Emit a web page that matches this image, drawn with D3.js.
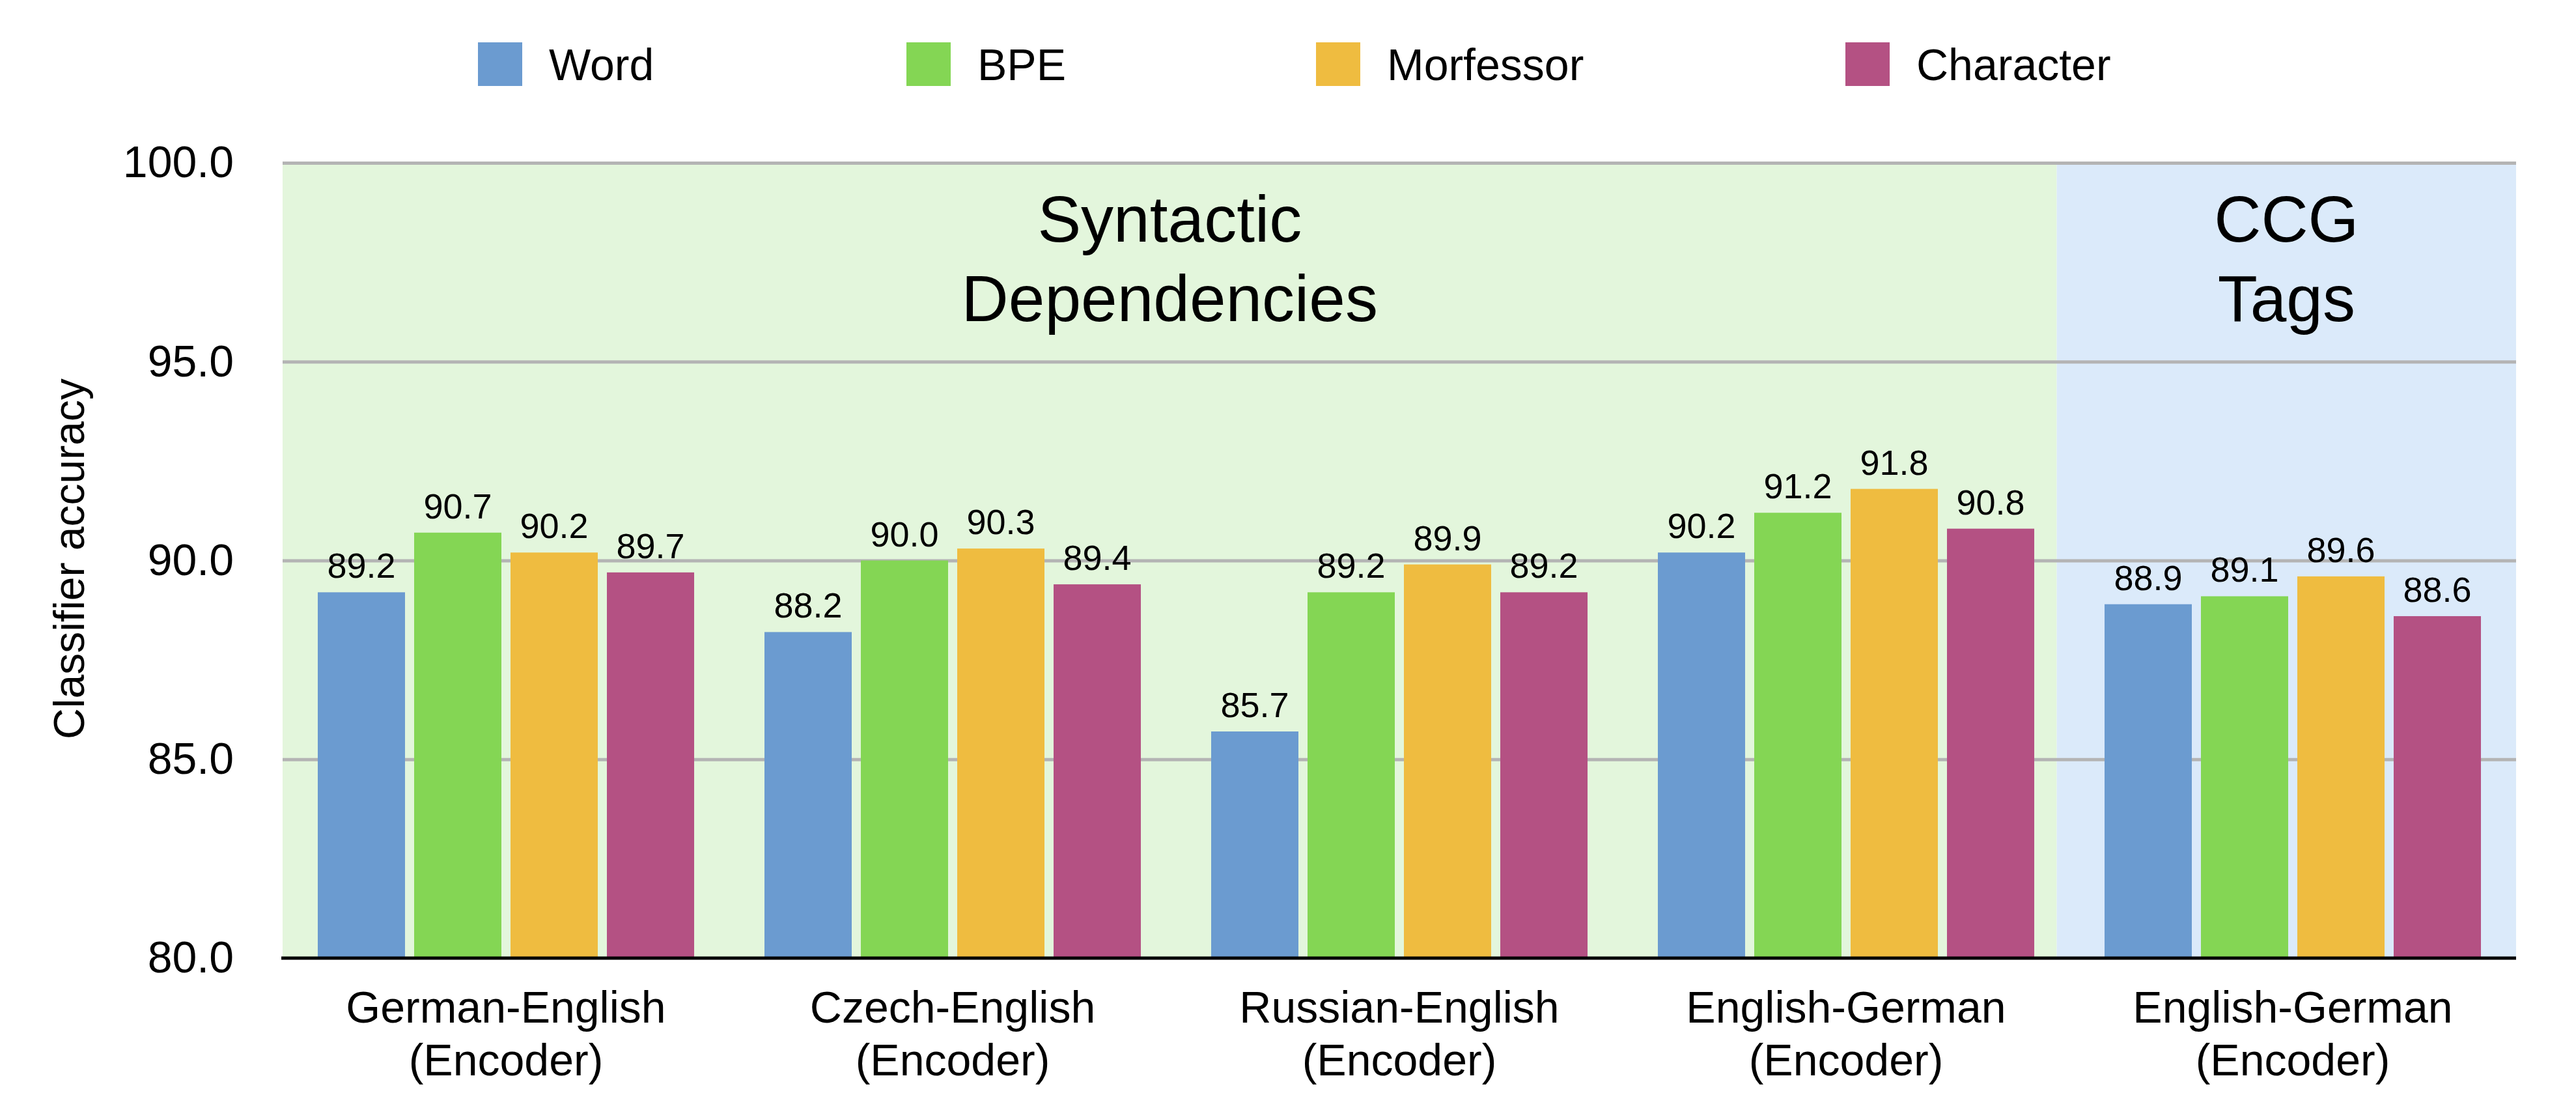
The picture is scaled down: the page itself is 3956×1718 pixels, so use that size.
<!DOCTYPE html>
<html><head><meta charset="utf-8">
<script src="https://cdn.jsdelivr.net/npm/d3@7"></script>
<style>
html,body{margin:0;padding:0;background:#fff;}
svg{display:block;}
text{font-family:"Liberation Sans",Arial,Helvetica,sans-serif;fill:#000;}
</style></head>
<body>
<svg id="chart" width="3956" height="1718"></svg>
<script>
// ---- data ----
const categories = ["German-English|(Encoder)", "Czech-English|(Encoder)", "Russian-English|(Encoder)", "English-German|(Encoder)", "English-German|(Encoder)"];
const seriesNames = ["Word", "BPE", "Morfessor", "Character"];
const wordValues = [89.2, 88.2, 85.7, 90.2, 88.9];
const bpeValues = [90.7, 90.0, 89.2, 91.2, 89.1];
const morfessorValues = [90.2, 90.3, 89.9, 91.8, 89.6];
const characterValues = [89.7, 89.4, 89.2, 90.8, 88.6];
const yTicks = [80, 85, 90, 95, 100];
const sectionLabels = ["Syntactic|Dependencies", "CCG|Tags"];
const sectionGroupCounts = [4, 1];
const yTitle = "Classifier accuracy";

// ---- styles ----
const colors = ["#6b9bd0", "#84d654", "#efbc40", "#b45183"];
const sectionColors = ["#e3f6dc", "#dbeafa"];
const seriesValues = [wordValues, bpeValues, morfessorValues, characterValues];

(function(){
const svg = d3.select("#chart");
const pL = 434, pR = 3864, pT = 250, pB = 1471;

const y = d3.scaleLinear().domain([80, 100]).range([pB, pT]);
const x0 = d3.scaleBand().domain(d3.range(categories.length)).range([pL, pR])
  .paddingInner(0.1574).paddingOuter(0.0787);
const x1 = d3.scaleBand().domain(d3.range(seriesNames.length)).range([0, x0.bandwidth()])
  .paddingInner(0.0946).paddingOuter(0);

// section backgrounds
let startIdx = 0;
const sections = sectionGroupCounts.map((cnt, i) => {
  const first = startIdx, last = startIdx + cnt - 1;
  startIdx += cnt;
  return {i, first, last};
});
function boundaryAfter(idx) {
  const end = x0(idx) + x0.bandwidth();
  const nextStart = x0(idx + 1);
  return end + (nextStart - end) * 0.32;
}
sections.forEach(s => {
  s.x0 = s.first === 0 ? pL : boundaryAfter(s.first - 1);
  s.x1 = s.last === categories.length - 1 ? pR : boundaryAfter(s.last);
});
svg.append("g").selectAll("rect").data(sections).join("rect")
  .attr("x", d => d.x0).attr("y", pT).attr("width", d => d.x1 - d.x0).attr("height", pB - pT)
  .attr("fill", d => sectionColors[d.i]);

// gridlines
const grid = svg.append("g").attr("transform", `translate(${pL},0)`)
  .call(d3.axisLeft(y).tickValues(yTicks.filter(t => t !== 80)).tickSize(-(pR - pL)).tickFormat(""));
grid.select(".domain").remove();
grid.selectAll("line").attr("stroke", "#b4b4b4").attr("stroke-width", 5);

// section titles
sections.forEach(s => {
  const cx = (s.x0 + s.x1) / 2;
  const lines = sectionLabels[s.i].split("|");
  const t = svg.append("text").attr("text-anchor", "middle").attr("font-size", 100);
  lines.forEach((ln, k) => t.append("tspan").attr("x", cx).attr("y", 371 + k * 122).text(ln));
});

// bars
const groups = svg.append("g").selectAll("g").data(categories.map((c, i) => i)).join("g")
  .attr("transform", i => `translate(${x0(i)},0)`);
groups.selectAll("rect").data(i => seriesValues.map((vals, s) => ({s, v: vals[i]}))).join("rect")
  .attr("x", d => x1(d.s)).attr("width", x1.bandwidth())
  .attr("y", d => y(d.v)).attr("height", d => y(80) - y(d.v))
  .attr("fill", d => colors[d.s]);
groups.selectAll("text").data(i => seriesValues.map((vals, s) => ({s, v: vals[i]}))).join("text")
  .attr("x", d => x1(d.s) + x1.bandwidth() / 2).attr("y", d => y(d.v) - 22)
  .attr("text-anchor", "middle").attr("font-size", 54)
  .text(d => d3.format(".1f")(d.v));

// baseline
svg.append("line").attr("x1", pL - 2).attr("x2", pR).attr("y1", y(80)).attr("y2", y(80))
  .attr("stroke", "#000").attr("stroke-width", 5);

// y axis tick labels
const yAxis = svg.append("g").attr("transform", `translate(${pL},0)`)
  .call(d3.axisLeft(y).tickValues(yTicks).tickSize(0).tickPadding(75).tickFormat(d3.format(".1f")));
yAxis.select(".domain").remove();
yAxis.selectAll("text").attr("font-size", 68).attr("font-family", '"Liberation Sans",Arial,sans-serif').attr("fill", "#000");

// y title
svg.append("text").attr("transform", "translate(106,858) rotate(-90)").attr("text-anchor", "middle")
  .attr("dominant-baseline", "central").attr("font-size", 66).text(yTitle);

// x category labels
categories.forEach((c, i) => {
  const cx = x0(i) + x0.bandwidth() / 2;
  const t = svg.append("text").attr("text-anchor", "middle").attr("font-size", 68);
  c.split("|").forEach((ln, k) => t.append("tspan").attr("x", cx).attr("y", 1570 + k * 81).text(ln));
});

const legendX = d3.scalePoint().domain(seriesNames).range([734, 2834]);
const legendPos = {"Word": 734, "BPE": 1392, "Morfessor": 2021, "Character": 2834};
const legend = svg.append("g");
seriesNames.forEach((n, i) => {
  const lx = legendPos[n];
  legend.append("rect").attr("x", lx).attr("y", 65).attr("width", 68).attr("height", 67).attr("fill", colors[i]);
  legend.append("text").attr("x", lx + 109).attr("y", 123).attr("font-size", 68).text(n);
});
})();
</script>
</body></html>
